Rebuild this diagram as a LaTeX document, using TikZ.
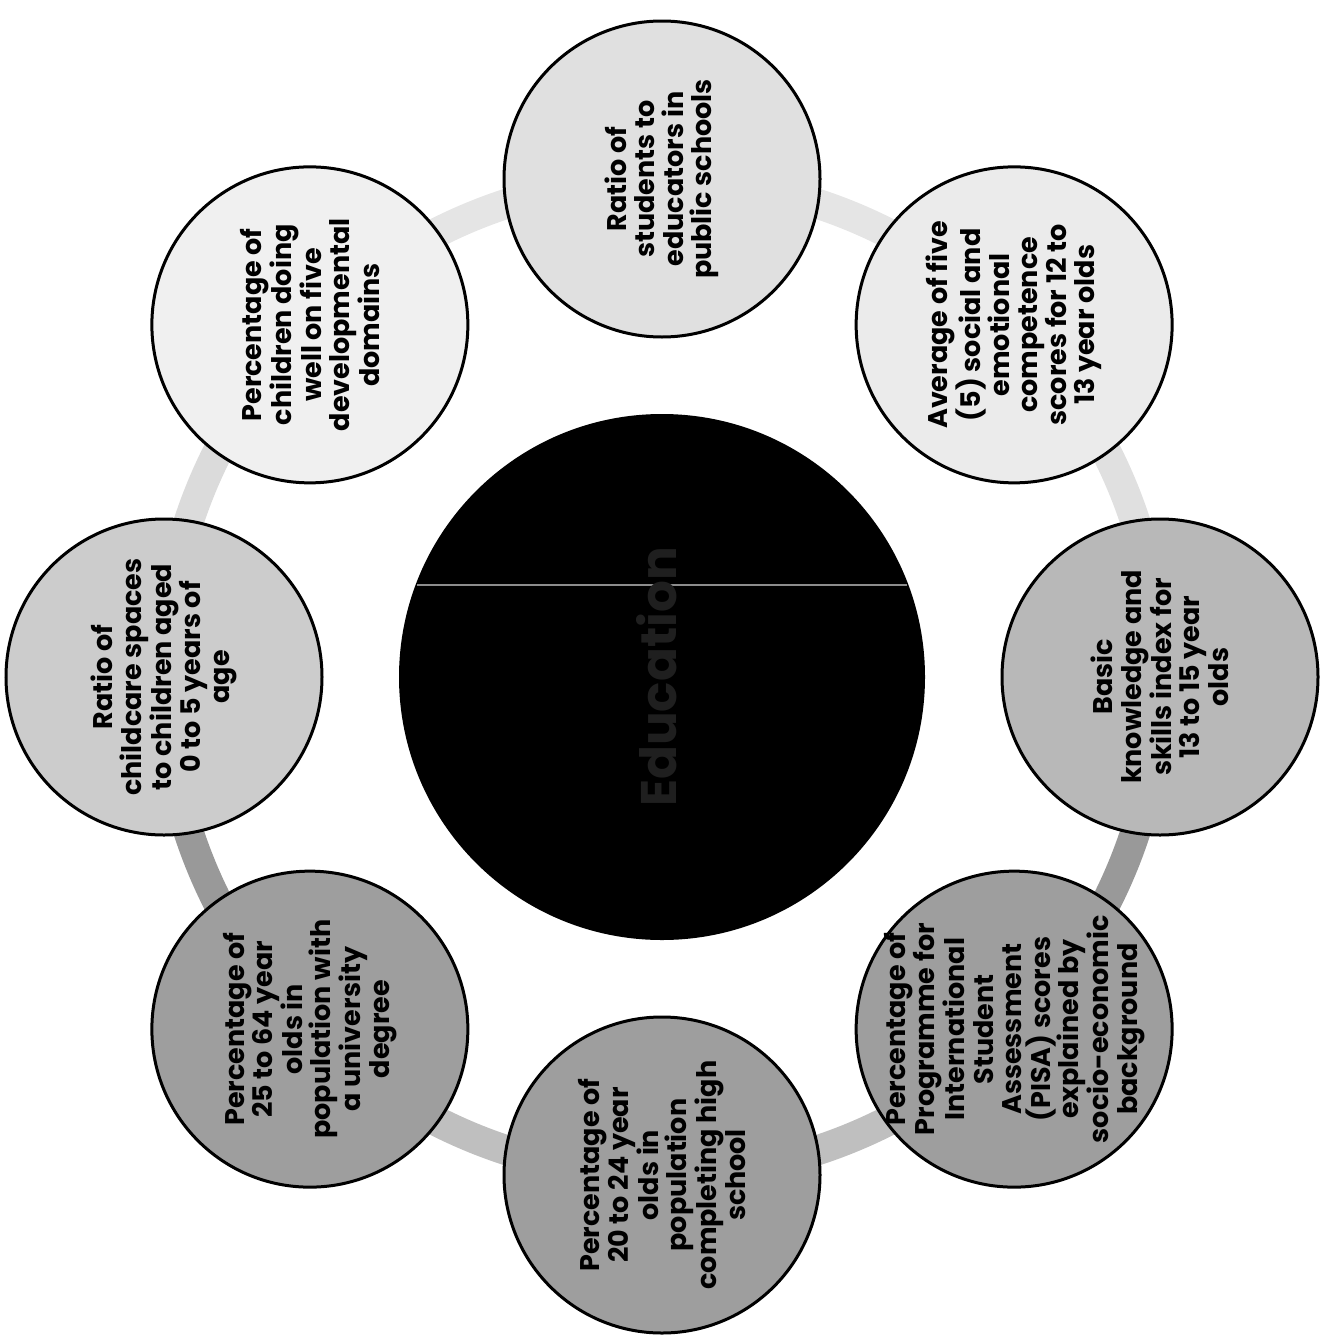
\documentclass[tikz,border=0pt]{standalone}
\usepackage{fontspec}
\setmainfont{Poppins}
\usetikzlibrary{calc,backgrounds}
\begin{document}
\begin{tikzpicture}[x=1pt,y=1pt,
  bub/.style={circle, draw=black, line width=3pt, minimum size=316pt, inner sep=0pt},
  lbl/.style={rotate=90, align=center, inner sep=0pt,
    font=\fontsize{27}{28.5}\selectfont\bfseries, text=black},
  ringseg/.style={line width=30pt, bend left=22.5, looseness=0.89}]
\useasboundingbox (0,0) rectangle (1323,-1341);
\coordinate (c) at (662,-677);
% outer circles
\node[bub, fill=black!12] (t)  at ($(c)+(90:498)$)  {};
\node[bub, fill=black!8]  (ur) at ($(c)+(45:498)$)  {};
\node[bub, fill=black!28] (r)  at ($(c)+(0:498)$)   {};
\node[bub, fill=black!38] (lr) at ($(c)+(-45:498)$) {};
\node[bub, fill=black!38] (b)  at ($(c)+(-90:498)$) {};
\node[bub, fill=black!38] (ll) at ($(c)+(-135:498)$) {};
\node[bub, fill=black!20] (l)  at ($(c)+(180:498)$) {};
\node[bub, fill=black!6]  (ul) at ($(c)+(135:498)$) {};
% ring
\begin{scope}[on background layer]
\draw[ringseg, black!10] (t.center)  to (ur.center);
\draw[ringseg, black!12] (ur.center) to (r.center);
\draw[ringseg, black!40] (r.center)  to (lr.center);
\draw[ringseg, black!25] (lr.center) to (b.center);
\draw[ringseg, black!25] (b.center)  to (ll.center);
\draw[ringseg, black!40] (ll.center) to (l.center);
\draw[ringseg, black!14] (l.center)  to (ul.center);
\draw[ringseg, black!10] (ul.center) to (t.center);
\end{scope}
% centre
\node[circle, fill=black, draw=black, line width=2pt, minimum size=524pt, inner sep=0pt] (edu) at (c) {};
\draw[black!45, line width=1.2pt] (417,-585) -- (907,-585);
\node[rotate=90, inner sep=0pt, font=\fontsize{50}{55}\selectfont\bfseries, text=black!88] (edut) at ([xshift=-5pt]c) {Education};
% labels
\node[lbl] (tt)  at (t)  {Ratio of\\students to\\educators in\\public schools};
\node[lbl] (urt) at (ur) {Average of five\\(5) social and\\emotional\\competence\\scores for 12 to\\13 year olds};
\node[lbl] (rt)  at (r)  {Basic\\knowledge and\\skills index for\\13 to 15 year\\olds};
\node[lbl] (lrt) at (lr) {Percentage of\\Programme for\\International\\Student\\Assessment\\(PISA) scores\\explained by\\socio-economic\\background};
\node[lbl] (bt)  at (b)  {Percentage of\\20 to 24 year\\olds in\\population\\completing high\\school};
\node[lbl] (llt) at (ll) {Percentage of\\25 to 64 year\\olds in\\population with\\a university\\degree};
\node[lbl] (lt)  at (l)  {Ratio of\\childcare spaces\\to children aged\\0 to 5 years of\\age};
\node[lbl] (ult) at (ul) {Percentage of\\children doing\\well on five\\developmental\\domains};
\end{tikzpicture}
\end{document}
